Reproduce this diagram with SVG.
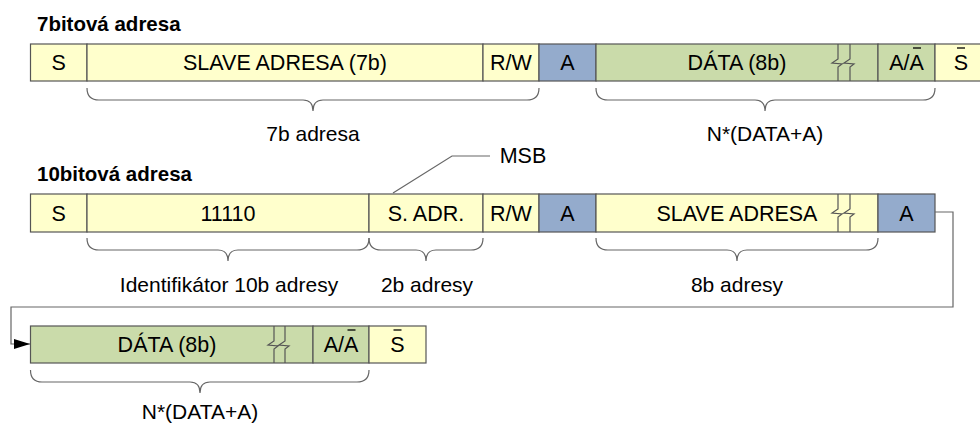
<svg xmlns="http://www.w3.org/2000/svg" width="980" height="425" viewBox="0 0 980 425">
<style>
.y{fill:#FFFFCC;stroke:#555;stroke-width:1.2}
.b{fill:#94ABCC;stroke:#555;stroke-width:1.2}
.g{fill:#CADBAA;stroke:#555;stroke-width:1.2}
.t{font-family:"Liberation Sans",Arial,sans-serif;font-size:21.5px;fill:#000;text-anchor:middle}
.h{font-family:"Liberation Sans",Arial,sans-serif;font-size:20.5px;font-weight:bold;fill:#000}
.l{font-family:"Liberation Sans",Arial,sans-serif;font-size:21px;fill:#000;text-anchor:middle}
.br{fill:none;stroke:#666;stroke-width:1.2}
.ob{stroke:#000;stroke-width:1.3}
.zz{fill:none;stroke:#555;stroke-width:1.2}
.cn{fill:none;stroke:#666;stroke-width:1.2}
</style>
<defs>
<marker id="arr" markerWidth="16" markerHeight="10" refX="16" refY="5" orient="auto" markerUnits="userSpaceOnUse">
<path d="M0,0 L16,5 L0,10 Z" fill="#000"/>
</marker>
</defs>

<text class="h" x="37" y="31">7bitová adresa</text>
<text class="h" x="37" y="181">10bitová adresa</text>

<!-- Row 1 -->
<g id="r1-s"><rect class="y" x="30.5" y="44" width="56.5" height="37"/><text class="t" x="58.7" y="70">S</text></g>
<g id="r1-slave"><rect class="y" x="87" y="44" width="396" height="37"/><text class="t" x="285" y="70">SLAVE ADRESA (7b)</text></g>
<g id="r1-rw"><rect class="y" x="483" y="44" width="56" height="37"/><text class="t" x="511" y="70">R/W</text></g>
<g id="r1-a"><rect class="b" x="539" y="44" width="57" height="37"/><text class="t" x="567.5" y="70">A</text></g>
<g id="r1-data"><rect class="g" x="596" y="44" width="282" height="37"/><text class="t" x="737" y="70">DÁTA (8b)</text>
<path class="zz" d="M838,44 V59 L832,63 L842,64 L838,67 V81 M850,44 V59 L844,63 L854,64 L850,67 V81"/></g>
<g id="r1-ack"><rect class="g" x="878" y="44" width="57" height="37"/><text class="t" x="906.5" y="70">A/A</text><line class="ob" x1="913" y1="48" x2="921" y2="48"/></g>
<g id="r1-stop"><rect class="y" x="935" y="44" width="57" height="37"/><text class="t" x="961" y="70">S</text><line class="ob" x1="957" y1="48" x2="965" y2="48"/></g>

<path class="br" d="M87,88 Q87,100 99,100 H303 Q313,100 313,111 Q313,100 323,100 H527 Q539,100 539,88"/>
<path class="br" d="M596,88 Q596,100 608,100 H755 Q765,100 765,111 Q765,100 775,100 H923 Q935,100 935,88"/>
<text class="l" x="313" y="141">7b adresa</text>
<text class="l" x="765" y="141">N*(DATA+A)</text>

<!-- Row 2 -->
<g id="r2-s"><rect class="y" x="30.5" y="194" width="56.5" height="38"/><text class="t" x="58.7" y="220.5">S</text></g>
<g id="r2-id"><rect class="y" x="87" y="194" width="282" height="38"/><text class="t" x="228" y="220.5">11110</text></g>
<g id="r2-sadr"><rect class="y" x="369" y="194" width="114" height="38"/><text class="t" x="426" y="220.5">S. ADR.</text></g>
<g id="r2-rw"><rect class="y" x="483" y="194" width="56" height="38"/><text class="t" x="511" y="220.5">R/W</text></g>
<g id="r2-a"><rect class="b" x="539" y="194" width="57" height="38"/><text class="t" x="567.5" y="220.5">A</text></g>
<g id="r2-slave"><rect class="y" x="596" y="194" width="282" height="38"/><text class="t" x="737" y="220.5">SLAVE ADRESA</text>
<path class="zz" d="M838,194 V209 L832,213 L842,214 L838,217 V232 M850,194 V209 L844,213 L854,214 L850,217 V232"/></g>
<g id="r2-a2"><rect class="b" x="878" y="194" width="57" height="38"/><text class="t" x="906.5" y="220.5">A</text></g>

<g id="msb"><path class="cn" d="M393,193 L452,156 H490"/><text class="t" x="523" y="163">MSB</text></g>

<path class="br" d="M87,238 Q87,250 99,250 H218 Q228,250 228,261 Q228,250 238,250 H357 Q369,250 369,238"/>
<path class="br" d="M369,238 Q369,250 381,250 H416 Q426,250 426,261 Q426,250 436,250 H471 Q483,250 483,238"/>
<path class="br" d="M596,238 Q596,250 608,250 H727 Q737,250 737,261 Q737,250 747,250 H866 Q878,250 878,238"/>
<text class="l" x="229" y="292">Identifikátor 10b adresy</text>
<text class="l" x="427" y="292">2b adresy</text>
<text class="l" x="737" y="292">8b adresy</text>

<!-- Row 3 -->
<g id="r3-data"><rect class="g" x="30.5" y="326" width="282.5" height="37"/><text class="t" x="167" y="352">DÁTA (8b)</text>
<path class="zz" d="M274,326 V341 L268,345 L278,346 L274,349 V363 M285,326 V341 L279,345 L289,346 L285,349 V363"/></g>
<g id="r3-ack"><rect class="g" x="313" y="326" width="56" height="37"/><text class="t" x="341" y="352">A/A</text><line class="ob" x1="347.5" y1="330" x2="355.5" y2="330"/></g>
<g id="r3-stop"><rect class="y" x="369" y="326" width="57" height="37"/><text class="t" x="397.5" y="352">S</text><line class="ob" x1="393.5" y1="330" x2="401.5" y2="330"/></g>

<path class="br" d="M30.5,370 Q30.5,382 42,382 H190 Q200,382 200,393 Q200,382 210,382 H357 Q369,382 369,370"/>
<text class="l" x="200" y="419">N*(DATA+A)</text>

<g id="connectors">
<path class="cn" d="M935,212 H953 V307 H11 V344 H30" marker-end="url(#arr)"/>
</g>
</svg>
